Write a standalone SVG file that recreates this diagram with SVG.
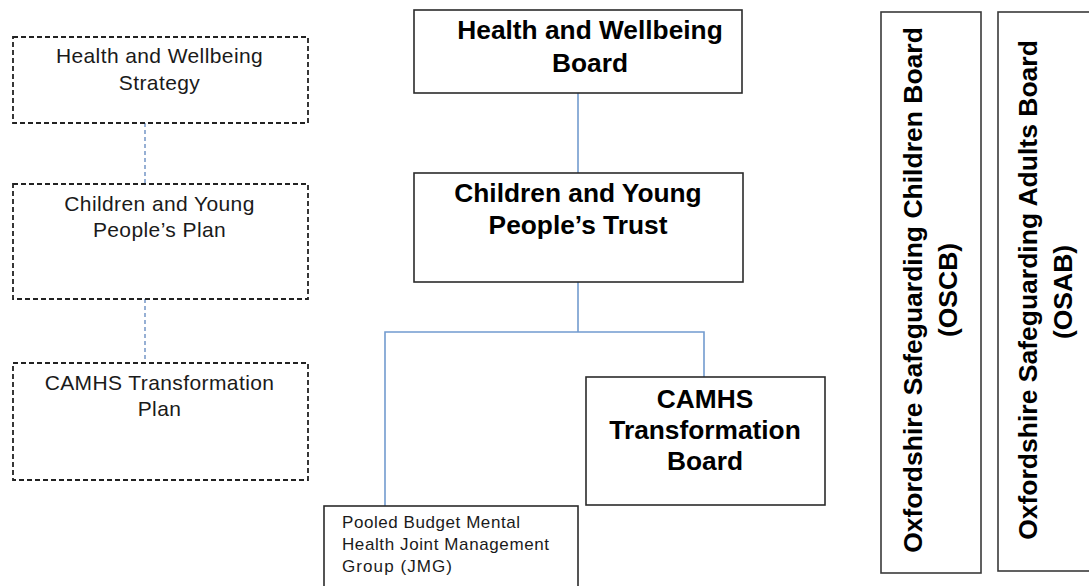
<svg xmlns="http://www.w3.org/2000/svg" width="1089" height="586" viewBox="0 0 1089 586">
  <style>
    .plan { fill: #ffffff; stroke: #222222; stroke-width: 1.8; stroke-dasharray: 5 3; }
    .box { fill: #ffffff; stroke: #2b2b2b; stroke-width: 1.6; }
    .side { fill: #ffffff; stroke: #3a3a3a; stroke-width: 1.6; }
    .reg { font-family: "Liberation Sans", Arial, sans-serif; font-size: 21px; letter-spacing: 0.4px; fill: #1a1a1a; text-anchor: middle; }
    .bold { font-family: "Liberation Sans", Arial, sans-serif; font-size: 26.3px; font-weight: bold; fill: #000000; text-anchor: middle; }
    .vert { font-family: "Liberation Sans", Arial, sans-serif; font-size: 26.5px; font-weight: bold; fill: #000000; text-anchor: middle; }
    .small { font-family: "Liberation Sans", Arial, sans-serif; font-size: 17px; fill: #1a1a1a; }
    .link { fill: none; stroke: #729bcf; stroke-width: 1.6; }
    .dlink { fill: none; stroke: #5f86bd; stroke-width: 1.3; stroke-dasharray: 4 3; }
  </style>

  <rect width="1089" height="586" fill="#ffffff"/>

  <!-- connectors -->
  <g id="connectors">
    <line class="dlink" x1="145" y1="123" x2="145" y2="184"/>
    <line class="dlink" x1="145" y1="299" x2="145" y2="363"/>
    <line class="link" x1="578" y1="93" x2="578" y2="173"/>
    <polyline class="link" points="578,282 578,332"/>
    <polyline class="link" points="385,507 385,332 704,332 704,377"/>
  </g>

  <!-- planning documents (dashed) -->
  <g id="hw-strategy">
    <rect class="plan" x="13" y="37" width="295" height="86"/>
    <text class="reg" x="159.5" y="63">Health and Wellbeing</text>
    <text class="reg" x="159.5" y="90">Strategy</text>
  </g>
  <g id="cyp-plan">
    <rect class="plan" x="13" y="184" width="295" height="115"/>
    <text class="reg" x="159.5" y="211">Children and Young</text>
    <text class="reg" x="159.5" y="237">People’s Plan</text>
  </g>
  <g id="camhs-plan">
    <rect class="plan" x="13" y="363" width="295" height="117"/>
    <text class="reg" x="159.5" y="390">CAMHS Transformation</text>
    <text class="reg" x="159.5" y="416">Plan</text>
  </g>

  <!-- governance boards -->
  <g id="hw-board">
    <rect class="box" x="414" y="10" width="328" height="83"/>
    <text class="bold" x="590" y="39">Health and Wellbeing</text>
    <text class="bold" x="590" y="72">Board</text>
  </g>
  <g id="cyp-trust">
    <rect class="box" x="414" y="173" width="329" height="109"/>
    <text class="bold" x="578" y="202">Children and Young</text>
    <text class="bold" x="578" y="234">People’s Trust</text>
  </g>
  <g id="camhs-board">
    <rect class="box" x="586" y="377" width="239" height="128"/>
    <text class="bold" x="705" y="408">CAMHS</text>
    <text class="bold" x="705" y="439">Transformation</text>
    <text class="bold" x="705" y="470">Board</text>
  </g>
  <g id="jmg">
    <rect class="box" x="324" y="506" width="254" height="90"/>
    <text class="small" x="342" y="528" textLength="178" lengthAdjust="spacing">Pooled Budget Mental</text>
    <text class="small" x="342" y="550" textLength="207" lengthAdjust="spacing">Health Joint Management</text>
    <text class="small" x="342" y="572" textLength="110" lengthAdjust="spacing">Group (JMG)</text>
  </g>

  <!-- safeguarding boards (vertical labels) -->
  <g id="oscb">
    <rect class="side" x="881" y="12" width="100" height="561"/>
    <text class="vert" transform="translate(922,290) rotate(-90)">Oxfordshire Safeguarding Children Board</text>
    <text class="vert" transform="translate(957,290) rotate(-90)">(OSCB)</text>
  </g>
  <g id="osab">
    <rect class="side" x="998" y="12" width="100" height="559"/>
    <text class="vert" transform="translate(1037,290) rotate(-90)">Oxfordshire Safeguarding Adults Board</text>
    <text class="vert" transform="translate(1072,292) rotate(-90)">(OSAB)</text>
  </g>
</svg>
